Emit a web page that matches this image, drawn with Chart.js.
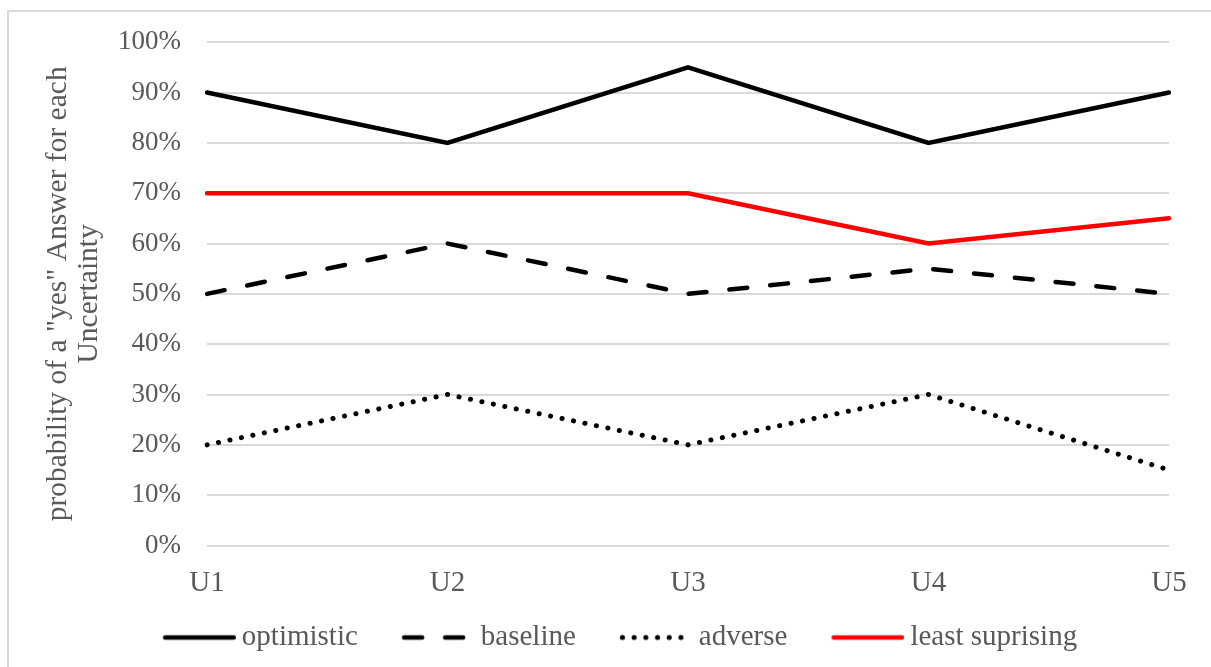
<!DOCTYPE html>
<html>
<head>
<meta charset="utf-8">
<script src="https://cdn.jsdelivr.net/npm/chart.js@4/dist/chart.umd.min.js"></script>
<style>
  html, body { margin: 0; padding: 0; background: #ffffff; }
  #wrap { position: relative; width: 1211px; height: 667px; overflow: hidden; }
  #frame { position: absolute; left: 7px; top: 10px; width: 1230px; height: 680px;
           border: 2px solid #d9d9d9; box-sizing: border-box; }
  #chart { position: absolute; left: 0; top: 0; }
</style>
</head>
<body>
<div id="wrap">
  <div id="frame"></div>
  <canvas id="chart" width="1211" height="667"></canvas>
</div>
<script>
// Uncertainties on the horizontal axis
const categories = ['U1', 'U2', 'U3', 'U4', 'U5'];

// Probability (%) of a "yes" answer per scenario
const optimistic = [90, 80, 95, 80, 90];
const baseline = [50, 60, 50, 55, 50];
const adverse = [20, 30, 20, 30, 15];
const leastSuprising = [70, 70, 70, 60, 65];

// Axis tick values (%)
const yTicks = [0, 10, 20, 30, 40, 50, 60, 70, 80, 90, 100];

const textColor = '#595959';
const serif = '"Liberation Serif", "Times New Roman", serif';

// Legend symbol: a short stroke in the series style, placed at the right of
// its box so the blank left part spaces the legend entries apart
function lineSample(color, dash, width) {
  const boxW = 104, len = 73;
  const c = document.createElement('canvas');
  c.width = boxW;
  c.height = 12;
  const ctx = c.getContext('2d');
  ctx.strokeStyle = color;
  ctx.lineWidth = width;
  ctx.lineCap = 'round';
  ctx.setLineDash(dash);
  ctx.beginPath();
  ctx.moveTo(boxW - len + width / 2, 6);
  ctx.lineTo(boxW - width / 2, 6);
  ctx.stroke();
  return c;
}

function series(label, data, color, dash, width) {
  return {
    label: label,
    data: data,
    borderColor: color,
    backgroundColor: color,
    borderWidth: width,
    borderDash: dash,
    borderCapStyle: 'round',
    borderJoinStyle: 'miter',
    pointRadius: 0,
    pointHoverRadius: 0,
    pointStyle: lineSample(color, dash, width),
    tension: 0,
    fill: false
  };
}

new Chart(document.getElementById('chart'), {
  type: 'line',
  data: {
    labels: categories,
    datasets: [
      series('optimistic', optimistic, '#000000', [], 4.5),
      series('baseline', baseline, '#000000', [18, 23], 4.5),
      series('adverse', adverse, '#000000', [0.1, 11.6], 5),
      series('least suprising', leastSuprising, '#ff0000', [], 4.5)
    ]
  },
  options: {
    responsive: false,
    animation: false,
    events: [],
    layout: { padding: { left: 6.5, right: 0, top: 40, bottom: 5 } },
    plugins: {
      tooltip: { enabled: false },
      legend: {
        display: true,
        position: 'bottom',
        labels: {
          usePointStyle: true,
          pointStyleWidth: 87,
          boxHeight: 10,
          padding: 21.5,
          color: textColor,
          font: { family: serif, size: 29 }
        }
      }
    },
    scales: {
      x: {
        type: 'category',
        offset: false,
        grid: { display: false, drawTicks: false },
        border: { display: false },
        ticks: {
          color: textColor,
          font: { family: serif, size: 29 },
          padding: 20,
          maxRotation: 0
        },
        afterFit: function (scale) {
          scale.height = 56;
          scale.paddingRight = 42;
        }
      },
      y: {
        min: 0,
        max: 100,
        afterBuildTicks: function (scale) {
          scale.ticks = yTicks.map(function (v) { return { value: v }; });
        },
        grid: { color: '#d9d9d9', lineWidth: 2, drawTicks: false },
        border: { display: false },
        ticks: {
          color: textColor,
          font: { family: serif, size: 27 },
          padding: 26,
          callback: function (v) { return v + '%'; }
        },
        title: {
          display: true,
          text: ['probability of a "yes" Answer for each', 'Uncertainty'],
          color: textColor,
          font: { family: serif, size: 29.5, lineHeight: 1.05 },
          padding: { top: 36.5, bottom: 0 }
        },
        afterFit: function (scale) { scale.width = 200.5; }
      }
    }
  }
});
</script>
</body>
</html>
